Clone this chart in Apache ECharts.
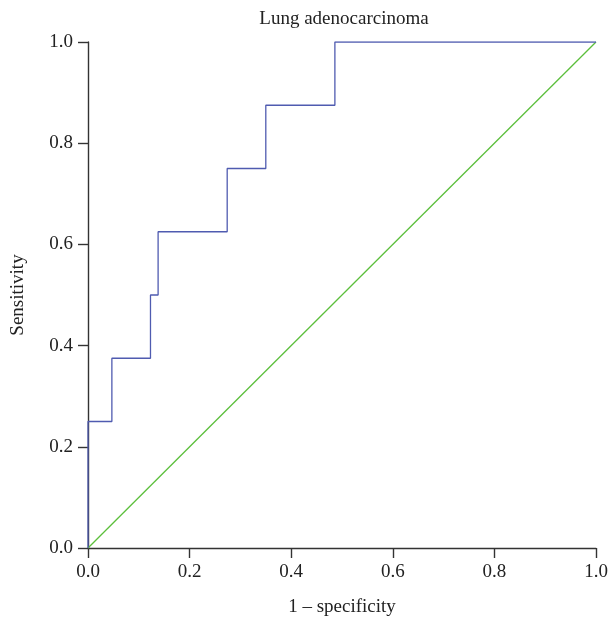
<!DOCTYPE html>
<html>
<head>
<meta charset="utf-8">
<script src="https://cdn.jsdelivr.net/npm/echarts@6/dist/echarts.min.js"></script>
<style>html,body{margin:0;padding:0;background:#fff}#c{width:614px;height:624px}</style>
</head>
<body>
<div id="c"></div>
<script>
var titleText = 'Lung adenocarcinoma';
var xName = '1 \u2013 specificity';
var yName = 'Sensitivity';
var rocFpr = [0, 0, 0.047, 0.047, 0.123, 0.123, 0.138, 0.138, 0.274, 0.274, 0.350, 0.350, 0.486, 0.486, 1.0];
var rocTpr = [0, 0.25, 0.25, 0.375, 0.375, 0.5, 0.5, 0.625, 0.625, 0.75, 0.75, 0.875, 0.875, 1.0, 1.0];
var refX = [0, 1];
var refY = [0, 1];

var font = 'Liberation Serif';
var chart = echarts.init(document.getElementById('c'), null, {renderer: 'canvas'});
function pairs(a, b) { return a.map(function (v, i) { return [v, b[i]]; }); }
var axisCommon = {
  type: 'value', min: 0, max: 1, interval: 0.2,
  nameLocation: 'middle',
  nameTextStyle: {fontFamily: font, fontSize: 19, color: '#222'},
  axisLine: {show: true, lineStyle: {color: '#333', width: 1.4}},
  axisTick: {show: true, length: 10, lineStyle: {color: '#333', width: 1.4}},
  axisLabel: {fontFamily: font, fontSize: 19, color: '#222', formatter: function (v) { return v.toFixed(1); }},
  splitLine: {show: false}
};
chart.setOption({
  animation: false,
  title: {text: titleText, left: 339, textAlign: 'center', top: 5,
    textStyle: {fontFamily: font, fontSize: 19, fontWeight: 'normal', color: '#222'}},
  grid: {left: 88, right: 18, top: 42, bottom: 76, containLabel: false},
  xAxis: Object.assign({}, axisCommon, {name: xName, nameGap: 50,
    axisLabel: Object.assign({}, axisCommon.axisLabel, {margin: 15})}),
  yAxis: Object.assign({}, axisCommon, {name: yName, nameGap: 60,
    axisLabel: Object.assign({}, axisCommon.axisLabel, {margin: 15})}),
  series: [
    {type: 'line', data: pairs(refX, refY), symbol: 'none',
      lineStyle: {color: '#5cbf3c', width: 1.3}},
    {type: 'line', data: pairs(rocFpr, rocTpr), symbol: 'none',
      lineStyle: {color: '#4f5bb0', width: 1.3}}
  ]
});
</script>
</body>
</html>
